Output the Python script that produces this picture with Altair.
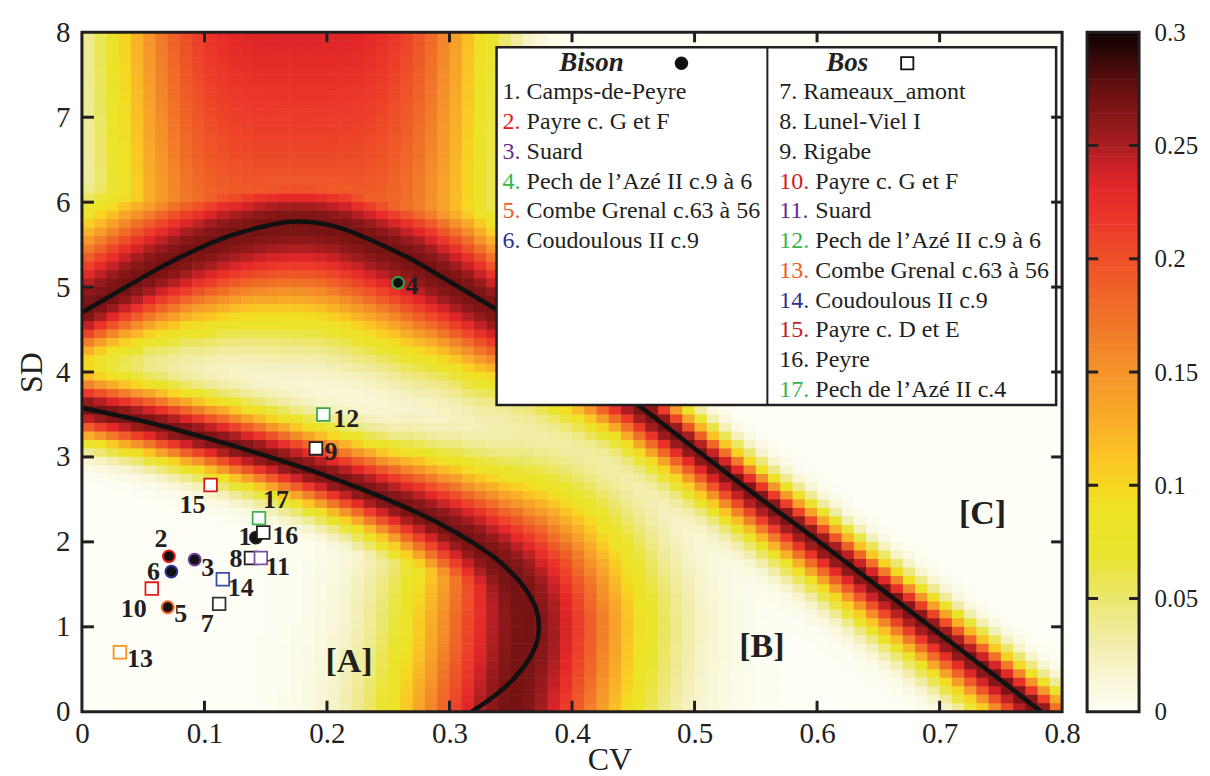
import numpy as np
import pandas as pd
import altair as alt

alt.data_transformers.disable_max_rows()

FONT = "Liberation Serif"
INK = "#231f20"

# ---------------- values ----------------
bison_ids = ["1", "2", "3", "4", "5", "6"]
bison_names = ["Camps-de-Peyre", "Payre c. G et F", "Suard",
               "Pech de l’Azé II c.9 à 6", "Combe Grenal c.63 à 56", "Coudoulous II c.9"]
bison_cv = [0.142, 0.071, 0.092, 0.258, 0.070, 0.073]
bison_sd = [2.05, 1.83, 1.79, 5.05, 1.23, 1.65]
bison_colors = ["#231f20", "#e3201b", "#6a3d9a", "#2ca84a", "#f26522", "#2e3192"]
bison_num_colors = ["#231f20", "#e3201b", "#662d91", "#39b54a", "#f15a24", "#2e3192"]
bison_label_dx = [-11, -8, 13, 14, 13, -18]
bison_label_dy = [-1, -17, 8, 3, 7, 0]

bos_ids = ["7", "8", "9", "10", "11", "12", "13", "14", "15", "16", "17"]
bos_names = ["Rameaux_amont", "Lunel-Viel I", "Rigabe", "Payre c. G et F", "Suard",
             "Pech de l’Azé II c.9 à 6", "Combe Grenal c.63 à 56", "Coudoulous II c.9",
             "Payre c. D et E", "Peyre", "Pech de l’Azé II c.4"]
bos_cv = [0.112, 0.138, 0.191, 0.057, 0.146, 0.197, 0.031, 0.115, 0.105, 0.148, 0.1445]
bos_sd = [1.27, 1.81, 3.10, 1.45, 1.81, 3.50, 0.70, 1.56, 2.67, 2.11, 2.28]
bos_colors = ["#333333", "#231f20", "#231f20", "#e3201b", "#7b52a6", "#39a847",
              "#f7941d", "#3a4fa8", "#d71920", "#231f20", "#39b54a"]
bos_num_colors = ["#231f20", "#231f20", "#231f20", "#d71920", "#662d91", "#39b54a",
                  "#f15a24", "#2e3192", "#be1e2d", "#231f20", "#39b54a"]
bos_label_dx = [-12, -15, 15, -18, 17, 23, 20, 18, -18, 22, 17]
bos_label_dy = [20, 1, 4, 20, 9, 5, 7, 9, 20, 3, -18]

# boundary A/B (black line)
ab_cv = [0.000, 0.056, 0.107, 0.153, 0.195, 0.232, 0.265, 0.294, 0.318, 0.338,
         0.353, 0.364, 0.371, 0.373, 0.371, 0.364, 0.353, 0.338, 0.318]
ab_sd = [3.58, 3.40, 3.20, 3.00, 2.80, 2.60, 2.40, 2.20, 2.00, 1.80,
         1.60, 1.40, 1.20, 1.00, 0.80, 0.60, 0.40, 0.20, 0.00]
# ridge of the heat band around A/B and its half-widths (px) on each side
ridge_cv = [0.000, 0.056, 0.107, 0.153, 0.195, 0.232, 0.265, 0.294, 0.318, 0.336,
            0.349, 0.357, 0.361, 0.362, 0.361, 0.359, 0.356, 0.353, 0.350]
ridge_sd = ab_sd
ab_w_in = [30, 31, 32, 33, 34, 36, 40, 46, 54, 64, 78, 95, 105, 110, 110, 110, 110, 110, 110]
ab_w_out = [32, 34, 36, 38, 40, 44, 52, 60, 68, 78, 90, 100, 106, 110, 110, 110, 110, 110, 110]

# upper boundary continuing into the B/C boundary
up_cv = [0.000, 0.030, 0.060, 0.090, 0.120, 0.150, 0.170, 0.190, 0.210, 0.230, 0.250, 0.270, 0.290,
         0.310, 0.338, 0.370, 0.400, 0.430, 0.453, 0.500, 0.550, 0.600, 0.650, 0.700, 0.750, 0.783]
up_sd = [4.70, 4.95, 5.20, 5.42, 5.60, 5.72, 5.77, 5.76, 5.70, 5.59, 5.46, 5.32, 5.15,
         4.98, 4.74, 4.45, 4.15, 3.85, 3.62, 3.10, 2.55, 2.02, 1.47, 0.92, 0.37, 0.00]
up_w_below = [43, 52, 62, 72, 80, 88, 92, 92, 90, 88, 85, 82, 78, 72, 66, 55, 46, 40, 36, 34, 34, 34, 34, 34, 34, 34]
up_w_above = [74, 76, 76, 74, 70, 64, 60, 60, 62, 64, 68, 70, 70, 66, 58, 44, 34, 27, 25, 23, 23, 23, 23, 23, 23, 23]

region_text = ["[A]", "[B]", "[C]"]
region_cv = [0.218, 0.555, 0.735]
region_sd = [0.59, 0.76, 2.33]

x_ticks = [0, 0.1, 0.2, 0.3, 0.4, 0.5, 0.6, 0.7, 0.8]
y_ticks = [0, 1, 2, 3, 4, 5, 6, 7, 8]
cb_ticks = [0, 0.05, 0.1, 0.15, 0.2, 0.25, 0.3]

cmap_stops = [0.0, 0.02, 0.035, 0.05, 0.07, 0.09, 0.1, 0.115, 0.13, 0.15, 0.165, 0.18,
              0.2, 0.215, 0.23, 0.24, 0.25, 0.275, 0.3]
cmap_colors = ["#fefef6", "#f6f3c8", "#f0eb9c", "#ece76e", "#e9e42c", "#eee226", "#f7d622",
               "#fbc126", "#f8ab28", "#f5942a", "#f17f29", "#f06a28", "#ee5028", "#ec3a2a",
               "#e42828", "#cc2228", "#a81e20", "#681010", "#0c0202"]

# ---------------- geometry ----------------
W, H = 981, 680
PXX = W / 0.8
PXY = H / 8.0

# ---------------- heat field built around the read boundaries ----------------
cv_mid = (np.arange(80) + 0.5) * 0.01
sd_mid = (np.arange(80) + 0.5) * 0.1
G_cv, G_sd = np.meshgrid(cv_mid, sd_mid)
gcv = G_cv.ravel()
gsd = G_sd.ravel()
P = np.stack([gcv * PXX, gsd * PXY], axis=1)


def band(ccv, csd, w_neg, w_pos, peak):
    V = np.stack([np.asarray(ccv) * PXX, np.asarray(csd) * PXY], 1)
    A = V[:-1]
    AB = V[1:] - A
    AP = P[:, None, :] - A[None]
    t = np.clip((AP * AB[None]).sum(-1) / (AB ** 2).sum(-1)[None], 0, 1)
    diff = AP - t[..., None] * AB[None]
    d = np.sqrt((diff ** 2).sum(-1))
    cross = AB[None, :, 0] * AP[..., 1] - AB[None, :, 1] * AP[..., 0]
    wn = np.asarray(w_neg, float)
    wp = np.asarray(w_pos, float)
    wneg = wn[None, :-1] * (1 - t) + wn[None, 1:] * t
    wpos = wp[None, :-1] * (1 - t) + wp[None, 1:] * t
    w = np.where(cross < 0, wneg, wpos)
    value = (peak * np.exp(-(d / w) ** 2)).max(1)
    k = d.argmin(1)
    i = np.arange(len(P))
    return value, d[i, k] * np.sign(cross[i, k])


a_val, _ = band(ridge_cv, ridge_sd, ab_w_in, ab_w_out, 0.27)
u_val, u_sgn = band(up_cv, up_sd, up_w_below, up_w_above, 0.27)
amp = np.clip(0.205 + 0.02 * (gsd - 6.5), 0.2, 0.235)
blob = amp * np.exp(-((gcv - 0.178) / 0.15) ** 4) / (1 + np.exp(np.clip(-u_sgn / 12.0, -50, 50)))
val = 0.28 * (1 - (1 - a_val / 0.28) * (1 - u_val / 0.28))
val = np.clip(np.maximum(val, blob), 0, 0.3)

heat_df = pd.DataFrame({
    "c0": np.round(gcv - 0.005, 4), "c1": np.round(gcv + 0.0055, 4),
    "s0": np.round(gsd - 0.05, 4), "s1": np.round(gsd + 0.057, 4),
    "v": np.round(val, 4),
})

# ---------------- scales & axes ----------------
xs = alt.Scale(domain=[0, 0.8], nice=False, zero=False)
ys = alt.Scale(domain=[0, 8], nice=False, zero=False)
cs = alt.Scale(domain=cmap_stops, range=cmap_colors, interpolate="rgb", clamp=True)

x_axis = alt.Axis(values=x_ticks, format="~g", title="CV", ticks=False, tickSize=0, domain=False,
                  grid=False, labelPadding=8, labelFontSize=29, labelFlush=False, labelOverlap=False,
                  titleFontSize=32, titleX=528, titleY=58, titleBaseline="alphabetic", titleAlign="center")
y_axis = alt.Axis(values=y_ticks, format="d", title="SD", ticks=False, tickSize=0, domain=False,
                  grid=False, labelPadding=12, labelFontSize=29, labelOverlap=False,
                  titleFontSize=32, titleX=-50, titleY=340, titleAngle=270,
                  titleAlign="center", titleBaseline="middle")


def X(field):
    return alt.X(field, scale=xs, axis=x_axis)


def Y(field):
    return alt.Y(field, scale=ys, axis=y_axis)


heat = alt.Chart(heat_df).mark_rect().encode(
    x=X("c0:Q"), x2="c1:Q", y=Y("s0:Q"), y2="s1:Q",
    color=alt.Color("v:Q", scale=cs, legend=None),
)


def line_layer(cvs, sds):
    df = pd.DataFrame({"cv": cvs, "sd": sds, "o": range(len(cvs))})
    return alt.Chart(df).mark_line(color="#111111", strokeWidth=4.5, interpolate="catmull-rom",
                                   clip=True).encode(x=X("cv:Q"), y=Y("sd:Q"), order=alt.Order("o:Q"))


line_ab = line_layer(ab_cv, ab_sd)
line_up = line_layer(up_cv, up_sd)

# ---------------- points ----------------
bison_df = pd.DataFrame({"cv": bison_cv, "sd": bison_sd, "col": bison_colors})
bos_df = pd.DataFrame({"cv": bos_cv, "sd": bos_sd, "col": bos_colors})
pts_bison = alt.Chart(bison_df).mark_point(shape="circle", filled=True, color="#111111", size=140,
                                           strokeWidth=2, opacity=1).encode(
    x=X("cv:Q"), y=Y("sd:Q"), stroke=alt.Stroke("col:N", scale=None))
pts_bos = alt.Chart(bos_df).mark_point(shape="square", filled=True, color="white", size=160,
                                       strokeWidth=1.8, opacity=1).encode(
    x=X("cv:Q"), y=Y("sd:Q"), stroke=alt.Stroke("col:N", scale=None))

lab_df = pd.DataFrame({
    "t": bison_ids + bos_ids,
    "lx": [c + dx / PXX for c, dx in zip(bison_cv + bos_cv, bison_label_dx + bos_label_dx)],
    "ly": [s - dy / PXY for s, dy in zip(bison_sd + bos_sd, bison_label_dy + bos_label_dy)],
})
labels = alt.Chart(lab_df).mark_text(font=FONT, fontSize=26, fontWeight="bold", color=INK,
                                     align="center", baseline="middle").encode(
    x=X("lx:Q"), y=Y("ly:Q"), text="t:N")

reg_df = pd.DataFrame({"t": region_text, "cv": region_cv, "sd": region_sd})
regions = alt.Chart(reg_df).mark_text(font=FONT, fontSize=34, fontWeight="bold", color=INK,
                                      align="center", baseline="middle").encode(
    x=X("cv:Q"), y=Y("sd:Q"), text="t:N")

# ---------------- inward ticks & frame ----------------
xt_df = pd.DataFrame({"t": x_ticks[1:-1]})
yt_df = pd.DataFrame({"t": y_ticks[1:-1]})
tick_kw = dict(color=INK, strokeWidth=3)
xt_bot = alt.Chart(xt_df).mark_rule(**tick_kw).encode(x=X("t:Q"), y=alt.value(H), y2=alt.value(H - 11))
xt_top = alt.Chart(xt_df).mark_rule(**tick_kw).encode(x=X("t:Q"), y=alt.value(0), y2=alt.value(10))
yt_left = alt.Chart(yt_df).mark_rule(**tick_kw).encode(y=Y("t:Q"), x=alt.value(0), x2=alt.value(12))
yt_right = alt.Chart(yt_df).mark_rule(**tick_kw).encode(y=Y("t:Q"), x=alt.value(W), x2=alt.value(W - 11))

one = pd.DataFrame({"a": [0]})
frame = alt.Chart(one).mark_rect(fillOpacity=0, stroke=INK, strokeWidth=3).encode(
    x=alt.value(0), x2=alt.value(W), y=alt.value(0), y2=alt.value(H))

# ---------------- legend box ----------------
box = alt.Chart(one).mark_rect(fill="white", stroke=INK, strokeWidth=2.5).encode(
    x=alt.value(415), x2=alt.value(975), y=alt.value(15), y2=alt.value(373))
divider = alt.Chart(one).mark_rule(color=INK, strokeWidth=2).encode(
    x=alt.value(686), y=alt.value(15), y2=alt.value(373))


def px2cv(px):
    return px / PXX


def py2sd(py):
    return (H - py) / PXY


head_df = pd.DataFrame({"t": ["Bison", "Bos"], "cv": [px2cv(510), px2cv(766)], "sd": [py2sd(31), py2sd(31)]})
heads = alt.Chart(head_df).mark_text(font=FONT, fontSize=27, fontWeight="bold", fontStyle="italic",
                                     color=INK, align="center", baseline="middle").encode(
    x=X("cv:Q"), y=Y("sd:Q"), text="t:N")
head_dot = alt.Chart(pd.DataFrame({"cv": [px2cv(600)], "sd": [py2sd(31)]})).mark_point(
    shape="circle", filled=True, color="#111111", size=180, opacity=1).encode(x=X("cv:Q"), y=Y("sd:Q"))
head_sq = alt.Chart(pd.DataFrame({"cv": [px2cv(826)], "sd": [py2sd(31)]})).mark_point(
    shape="square", filled=True, color="white", stroke="#111111", strokeWidth=1.8, size=150,
    opacity=1).encode(x=X("cv:Q"), y=Y("sd:Q"))

row0, row_step = 60, 29.8
num_rows, name_rows = [], []
for i, (n, name, col) in enumerate(zip(bison_ids, bison_names, bison_num_colors)):
    y = py2sd(row0 + i * row_step)
    num_rows.append({"t": n + ".", "cv": px2cv(421), "sd": y, "col": col})
    name_rows.append({"t": name, "cv": px2cv(445), "sd": y})
for i, (n, name, col) in enumerate(zip(bos_ids, bos_names, bos_num_colors)):
    y = py2sd(row0 + i * row_step)
    num_rows.append({"t": n + ".", "cv": px2cv(698), "sd": y, "col": col})
    name_rows.append({"t": name, "cv": px2cv(722 if len(n) == 1 else 734), "sd": y})

leg_nums = alt.Chart(pd.DataFrame(num_rows)).mark_text(font=FONT, fontSize=24, align="left",
                                                       baseline="middle").encode(
    x=X("cv:Q"), y=Y("sd:Q"), text="t:N", fill=alt.Fill("col:N", scale=None))
leg_names = alt.Chart(pd.DataFrame(name_rows)).mark_text(font=FONT, fontSize=24, align="left",
                                                         baseline="middle", color=INK).encode(
    x=X("cv:Q"), y=Y("sd:Q"), text="t:N")

main = alt.layer(heat, line_ab, line_up, box, divider, heads, head_dot, head_sq, leg_nums, leg_names,
                 pts_bison, pts_bos, labels, regions, xt_bot, xt_top, yt_left, yt_right, frame)

# ---------------- colour bar ----------------
cbv = (np.arange(300) + 0.5) * 0.001
cb_df = pd.DataFrame({"b0": np.round(cbv - 0.0005, 4), "b1": np.round(cbv + 0.0008, 4), "v": np.round(cbv, 4)})
cbs = alt.Scale(domain=[0, 0.3], nice=False, zero=False)
cb_axis = alt.Axis(orient="right", offset=78, values=cb_ticks, format="~g", ticks=False, tickSize=0,
                   domain=False, grid=False, labelPadding=14, labelFontSize=25, labelFlush=False,
                   labelOverlap=False, title=None)


def CY(field):
    return alt.Y(field, scale=cbs, axis=cb_axis)


CB0, CB1 = 1006, 1058
cb_rects = alt.Chart(cb_df).mark_rect().encode(
    y=CY("b0:Q"), y2="b1:Q", x=alt.value(CB0), x2=alt.value(CB1),
    color=alt.Color("v:Q", scale=cs, legend=None))
cbt_df = pd.DataFrame({"t": cb_ticks[1:-1]})
cb_tl = alt.Chart(cbt_df).mark_rule(**tick_kw).encode(y=CY("t:Q"), x=alt.value(CB0), x2=alt.value(CB0 + 11))
cb_tr = alt.Chart(cbt_df).mark_rule(**tick_kw).encode(y=CY("t:Q"), x=alt.value(CB1), x2=alt.value(CB1 - 10))
cb_frame = alt.Chart(one).mark_rect(fillOpacity=0, stroke=INK, strokeWidth=3).encode(
    x=alt.value(CB0), x2=alt.value(CB1), y=alt.value(0), y2=alt.value(H))
cbar = alt.layer(cb_rects, cb_tl, cb_tr, cb_frame)

chart = alt.layer(main, cbar).resolve_scale(y="independent").properties(
    width=W, height=H,
    autosize=alt.AutoSizeParams(type="none"),
    padding={"left": 74, "top": 24, "right": 140, "bottom": 64},
).configure_view(stroke=None).configure_axis(
    labelFont=FONT, titleFont=FONT, labelColor=INK, titleColor=INK, titleFontWeight="normal")

chart.save("out.html", embed_options={"renderer": "svg", "actions": False})
